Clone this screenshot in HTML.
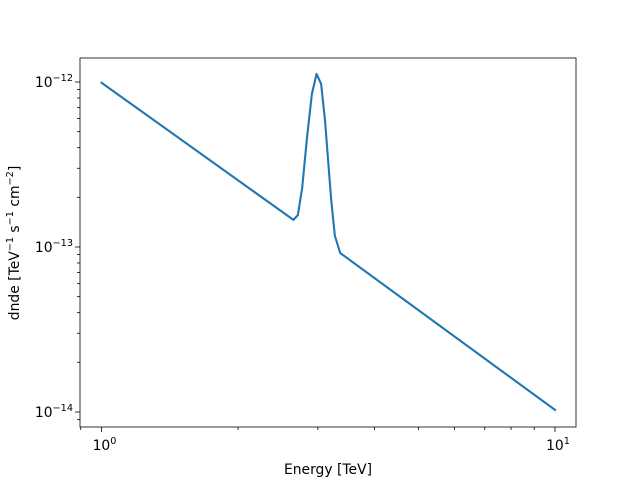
<!DOCTYPE html>
<html><head><meta charset="utf-8"><style>
body{margin:0;background:#fff;}
svg{font-family:"DejaVu Sans","Liberation Sans",sans-serif;}
</style></head><body>
<svg id="chart" width="640" height="480" xmlns="http://www.w3.org/2000/svg">
<rect x="0" y="0" width="640" height="480" fill="#fff"/>
<g id="ticks"></g>
<path id="line" fill="none" stroke="#1f77b4" stroke-width="2.1" stroke-linejoin="round" stroke-linecap="square"/>
<rect x="80" y="58" width="496" height="369" fill="none" stroke="#000" stroke-width="0.8"/>
<text x="328" y="474" font-size="13.9" text-anchor="middle">Energy [TeV]</text>
<text transform="translate(19,243) rotate(-90)" font-size="13.9" text-anchor="middle">dnde [TeV<tspan font-size="9.7" dy="-6">−1</tspan><tspan dy="6"> s</tspan><tspan font-size="9.7" dy="-6">−1</tspan><tspan dy="6"> cm</tspan><tspan font-size="9.7" dy="-6">−2</tspan><tspan dy="6">]</tspan></text>
</svg>
<script>
const energies=[1,2.65,2.71,2.77,2.84,2.91,2.98,3.05,3.11,3.21,3.27,3.36,10];
const dnde=[9.9e-13,1.46e-13,1.56e-13,2.28e-13,4.64e-13,8.46e-13,1.12e-12,9.73e-13,5.88e-13,1.93e-13,1.17e-13,9.2e-14,1.03e-14];
const xTickVals=[1,10];
const xTickLabels=["0","1"];
const yTickVals=[1e-12,1e-13,1e-14];
const yTickLabels=["−12","−13","−14"];
const NS="http://www.w3.org/2000/svg";
function xs(v){return 101.5+453.5*Math.log10(v);}
function ys(v){return 247-165*(Math.log10(v)+13);}
const g=document.getElementById('ticks');
function ln(x1,y1,x2,y2,name){const l=document.createElementNS(NS,'line');
l.setAttribute('x1',x1);l.setAttribute('y1',y1);l.setAttribute('x2',x2);l.setAttribute('y2',y2);
l.setAttribute('stroke','#000');l.setAttribute('stroke-width','0.8');


g.appendChild(l);}
function txt(x,y,exp,anchor,name){const t=document.createElementNS(NS,'text');
t.setAttribute('x',x);t.setAttribute('y',y);t.setAttribute('font-size','13.9');t.setAttribute('text-anchor',anchor);
t.innerHTML='10<tspan font-size="9.7" dy="-6">'+exp+'</tspan>';


g.appendChild(t);}
xTickVals.forEach((v,i)=>{const x=xs(v);ln(x,427,x,432,'x-major-tick');txt(x+3,450,xTickLabels[i],'middle','x-tick-label');});
[0.9,2,3,4,5,6,7,8,9].forEach(v=>{const x=xs(v);if(x>=80&&x<=576)ln(x,427,x,430,'x-minor-tick');});
yTickVals.forEach((v,i)=>{const y=ys(v);ln(75,y,80,y,'y-major-tick');txt(73,y+5,yTickLabels[i],'end','y-tick-label');});
[-15,-14,-13,-12].forEach(e=>{for(let m=2;m<=9;m++){const y=ys(m*Math.pow(10,e));if(y>=58&&y<=427)ln(77,y,80,y,'y-minor-tick');}});
document.getElementById('line').setAttribute('d',energies.map((e,i)=>(i?'L':'M')+xs(e).toFixed(2)+','+ys(dnde[i]).toFixed(2)).join(''));
</script>
</body></html>
